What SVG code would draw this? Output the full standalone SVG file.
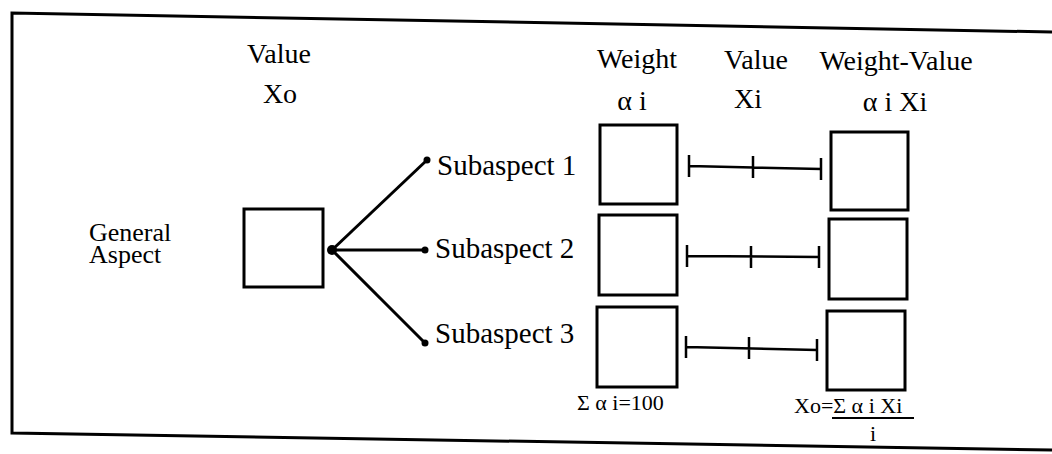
<svg xmlns="http://www.w3.org/2000/svg" width="1052" height="454" viewBox="0 0 1052 454">
<style>
text{font-family:"Liberation Serif","Times New Roman",serif;fill:#000}
.h{font-size:28px}
.s{font-size:29px}
.g{font-size:26px}
.f{font-size:22px}
.box{fill:#fff;stroke:#000;stroke-width:3}
.ln{stroke:#000;stroke-width:3;fill:none}
.bar{stroke:#000;stroke-width:2.5;fill:none}
</style>
<rect width="1052" height="454" fill="#fff"/>
<g id="frame">
<polyline class="ln" points="1052,32 12,13 12,433 1052,450"/>
</g>
<g id="headers">
<text class="h" x="279" y="63" text-anchor="middle">Value</text>
<text class="h" x="280" y="103" text-anchor="middle">Xo</text>
<text class="h" x="637" y="68" text-anchor="middle">Weight</text>
<text class="h" x="632" y="110" text-anchor="middle">α i</text>
<text class="h" x="756" y="69" text-anchor="middle">Value</text>
<text class="h" x="748" y="108" text-anchor="middle">Xi</text>
<text class="h" x="896" y="70" text-anchor="middle">Weight-Value</text>
<text class="h" x="895" y="111" text-anchor="middle">α i Xi</text>
</g>
<g id="general">
<text class="g" x="89" y="241">General</text>
<text class="g" x="89" y="263">Aspect</text>
<rect class="box" x="244" y="209" width="79" height="78"/>
</g>
<g id="connectors">
<line class="ln" x1="332" y1="250" x2="427" y2="160"/>
<line class="ln" x1="332" y1="250" x2="425" y2="250"/>
<line class="ln" x1="332" y1="250" x2="425" y2="343"/>
<circle cx="332" cy="250" r="5"/>
<circle cx="427" cy="160" r="3.5"/>
<circle cx="425" cy="250" r="3.5"/>
<circle cx="425" cy="343" r="3.5"/>
</g>
<g id="sub1">
<text class="s" x="437" y="175">Subaspect 1</text>
<rect class="box" x="600" y="125" width="77" height="79"/>
<path class="bar" d="M689,155V177M689,166L821,169M753,156V178M821,158V180"/>
<rect class="box" x="831" y="132" width="77" height="78"/>
</g>
<g id="sub2">
<text class="s" x="435" y="258">Subaspect 2</text>
<rect class="box" x="599" y="215" width="78" height="80"/>
<path class="bar" d="M687,245V267M687,256L819,257M751,246V268M819,246V268"/>
<rect class="box" x="829" y="219" width="78" height="80"/>
</g>
<g id="sub3">
<text class="s" x="435" y="343">Subaspect 3</text>
<rect class="box" x="597" y="307" width="80" height="80"/>
<path class="bar" d="M686,336V358M686,347L817,350M749,337V359M817,339V361"/>
<rect class="box" x="827" y="311" width="78" height="79"/>
</g>
<g id="formulas">
<text class="f" x="577" y="410">Σ α i=100</text>
<text class="f" x="794" y="413" font-size="23">Xo=Σ α i Xi</text>
<line x1="832" y1="418" x2="914" y2="418" stroke="#000" stroke-width="2"/>
<text class="f" x="873" y="441" text-anchor="middle">i</text>
</g>
</svg>
